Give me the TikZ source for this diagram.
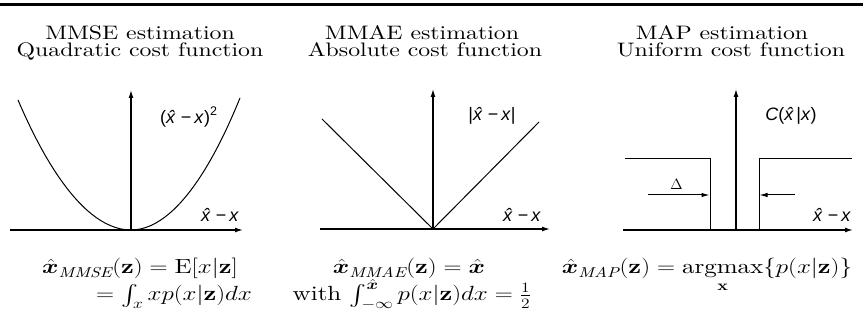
\documentclass[tikz,border=0pt]{standalone}
\usepackage{fix-cm}
\usepackage{amsmath,bm}
\usepackage{graphicx}
\usepackage{fontspec}
\setmainfont{lmroman10-regular.otf}[BoldFont=lmroman10-bold.otf, ItalicFont=lmroman10-italic.otf]
\newfontfamily\lblfont{Liberation Sans}
\usetikzlibrary{arrows.meta}
\newcommand{\hstr}[1]{\scalebox{1.22}[1]{#1}}
\newcommand{\lblsq}{\raisebox{0.42em}{\fontsize{12.5}{13}\selectfont 2}}
\tikzset{
  title/.style={font=\fontsize{19.5}{20}\selectfont, anchor=base, inner sep=0pt},
  formula/.style={font=\fontsize{20.5}{21}\selectfont, anchor=base, inner sep=0pt},
  lbl/.style={font=\lblfont\fontsize{18}{19}\selectfont, inner sep=0pt},
  axis/.style={line width=1.3pt, -{Latex[length=8pt,width=5pt]}},
  curve/.style={line width=1pt},
  dimarrow/.style={line width=1pt, -{Latex[length=8pt,width=4.5pt]}},
}
\begin{document}
\begin{tikzpicture}[x=1pt,y=-1pt]
\useasboundingbox (0,0) rectangle (863,323);
% top rule
\coordinate (r1) at (0,4.5);
\coordinate (r2) at (863,4.5);
\draw[line width=2.6pt] (r1) -- (r2);
% titles
\node[title] (t1a) at (140,40) {\hstr{MMSE estimation}};
\node[title] (t1b) at (140,57) {\hstr{Quadratic cost function}};
\node[title] (t2a) at (422,40) {\hstr{MMAE estimation}};
\node[title] (t2b) at (425,57) {\hstr{Absolute cost function}};
\node[title] (t3a) at (722,40) {\hstr{MAP estimation}};
\node[title] (t3b) at (731,57) {\hstr{Uniform cost function}};
% panel 1
\coordinate (o1) at (131,230);
\coordinate (x1s) at (10,230);
\coordinate (x1e) at (243,230);
\coordinate (y1e) at (131,90);
\coordinate (p1l) at (18,100);
\coordinate (p1r) at (240,98);
\draw[axis] (x1s) -- (x1e);
\draw[axis] (o1) -- (y1e);
\draw[curve] (p1l) parabola bend (o1) (p1r);
\node[lbl] (l1) at (188.5,117) {(\textit{x̂}\,−\,\textit{x})\lblsq};
\node[lbl] (a1) at (220,215) {\textit{x̂}\,−\,\textit{x}};
% panel 2
\coordinate (o2) at (433,229);
\coordinate (x2s) at (320,229);
\coordinate (x2e) at (550,229);
\coordinate (y2e) at (433,89);
\coordinate (v2l) at (322,119);
\coordinate (v2r) at (539,122);
\draw[axis] (x2s) -- (x2e);
\draw[axis] (o2) -- (y2e);
\draw[curve] (v2l) -- (o2) -- (v2r);
\node[lbl] (l2) at (492,116) {|\textit{x̂}\,−\,\textit{x}|};
\node[lbl] (a2) at (522,215) {\textit{x̂}\,−\,\textit{x}};
% panel 3
\coordinate (o3) at (736,230);
\coordinate (x3s) at (623,230);
\coordinate (x3e) at (853,230);
\coordinate (y3e) at (736,89);
\coordinate (s1) at (625,159);
\coordinate (s2) at (710,159);
\coordinate (s3) at (710,230);
\coordinate (s4) at (759,230);
\coordinate (s5) at (759,159);
\coordinate (s6) at (852,159);
\draw[axis] (x3s) -- (x3e);
\draw[axis] (o3) -- (y3e);
\draw[curve] (s1) -- (s2) -- (s3) -- (s4) -- (s5) -- (s6);
\coordinate (d1s) at (648,195);
\coordinate (d1e) at (709.5,195);
\coordinate (d2s) at (795,195);
\coordinate (d2e) at (759.5,195);
\draw[dimarrow] (d1s) -- (d1e);
\draw[dimarrow] (d2s) -- (d2e);
\node[font=\fontsize{15}{16}\selectfont, inner sep=0pt] (delta) at (676.5,184) {$\Delta$};
\node[lbl] (l3) at (791,116) {\textit{C}(\textit{x̂}|\textit{x})};
\node[lbl] (a3) at (832,215) {\textit{x̂}\,−\,\textit{x}};
% formulas
\node[formula] (f1a) at (140,274) {\hstr{$\bm{\hat{x}}_{\mathit{MMSE}}(\mathbf{z}) = \mathrm{E}[x|\mathbf{z}]$}};
\node[formula] (f1b) at (174,301) {\hstr{$= \int_x xp(x|\mathbf{z})dx$}};
\node[formula] (f2a) at (409,274) {\hstr{$\bm{\hat{x}}_{\mathit{MMAE}}(\mathbf{z}) = \bm{\hat{x}}$}};
\node[formula] (f2b) at (412,301) {\hstr{with $\int_{-\infty}^{\bm{\hat{x}}} p(x|\mathbf{z})dx = \frac{1}{2}$}};
\node[formula] (f3) at (707,274) {\hstr{$\bm{\hat{x}}_{\mathit{MAP}}(\mathbf{z}) = \displaystyle\operatorname*{argmax}_{\mathbf{x}}\{p(x|\mathbf{z})\}$}};
\end{tikzpicture}
\end{document}
